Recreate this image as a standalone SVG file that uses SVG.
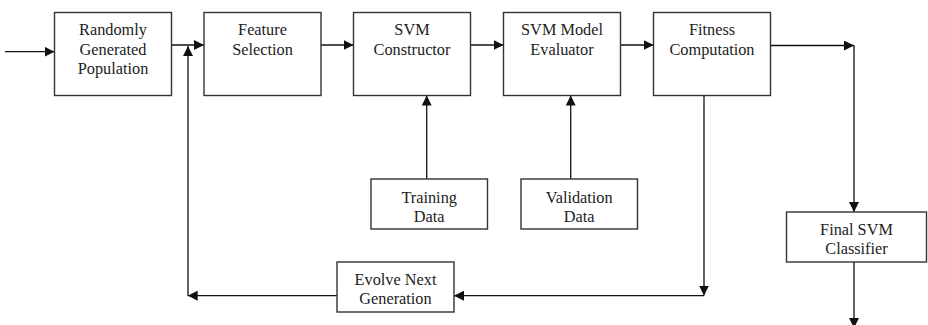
<svg xmlns="http://www.w3.org/2000/svg" width="928" height="325" viewBox="0 0 928 325">
<defs>
<marker id="ah" viewBox="0 0 10 10" refX="10" refY="5" markerWidth="10" markerHeight="10" markerUnits="userSpaceOnUse" orient="auto">
<path d="M0,0 L10,5 L0,10 z" fill="#111"/>
</marker>
</defs>
<style>
.box{fill:#fff;stroke:#333;stroke-width:1.4}
text{font-family:'Liberation Serif','DejaVu Serif',serif;font-size:16.3px;fill:#222;text-anchor:middle}
.c{fill:none;stroke:#111;stroke-width:1.3;marker-end:url(#ah)}
</style>
<rect width="928" height="325" fill="#fff"/>
<g id="connectors">
<path class="c" d="M5,51.7 H54.5"/>
<path class="c" d="M171.5,45 H204"/>
<path class="c" d="M321,45 H353.5"/>
<path class="c" d="M470.5,45 H503.5"/>
<path class="c" d="M620.5,45 H653.5"/>
<path class="c" d="M770.5,45.5 H854"/>
<path class="c" d="M854,45.5 V212"/>
<path class="c" d="M854,262 V328"/>
<path class="c" d="M426.7,179 V95.5"/>
<path class="c" d="M570.7,179 V95.5"/>
<path class="c" d="M704,95.5 V295.5"/>
<path class="c" d="M704,295.7 H454"/>
<path class="c" d="M337,295.7 H187.7"/>
<path class="c" d="M188,295.7 V46"/>
</g>
<g id="random-pop">
<rect class="box" x="54.5" y="12.5" width="117" height="83"/>
<text x="113" y="35">Randomly</text>
<text x="113" y="54.5">Generated</text>
<text x="113" y="74">Population</text>
</g>
<g id="feature-selection">
<rect class="box" x="204" y="12.5" width="117" height="83"/>
<text x="262.5" y="35">Feature</text>
<text x="262.5" y="54.5">Selection</text>
</g>
<g id="svm-constructor">
<rect class="box" x="353.5" y="12.5" width="117" height="83"/>
<text x="412" y="35">SVM</text>
<text x="412" y="54.5">Constructor</text>
</g>
<g id="svm-evaluator">
<rect class="box" x="503.5" y="12.5" width="117" height="83"/>
<text x="562" y="35">SVM Model</text>
<text x="562" y="54.5">Evaluator</text>
</g>
<g id="fitness">
<rect class="box" x="653.5" y="12.5" width="117" height="83"/>
<text x="712" y="35">Fitness</text>
<text x="712" y="54.5">Computation</text>
</g>
<g id="training-data">
<rect class="box" x="371" y="179" width="116.5" height="50"/>
<text x="429.2" y="202.7">Training</text>
<text x="429.2" y="221.5">Data</text>
</g>
<g id="validation-data">
<rect class="box" x="521" y="179" width="116.5" height="50"/>
<text x="579.2" y="202.7">Validation</text>
<text x="579.2" y="221.5">Data</text>
</g>
<g id="evolve">
<rect class="box" x="337" y="262" width="117" height="50"/>
<text x="395.5" y="285">Evolve Next</text>
<text x="395.5" y="304">Generation</text>
</g>
<g id="final-svm">
<rect class="box" x="786.5" y="212" width="140" height="50"/>
<text x="856.5" y="235">Final SVM</text>
<text x="856.5" y="254">Classifier</text>
</g>
</svg>
